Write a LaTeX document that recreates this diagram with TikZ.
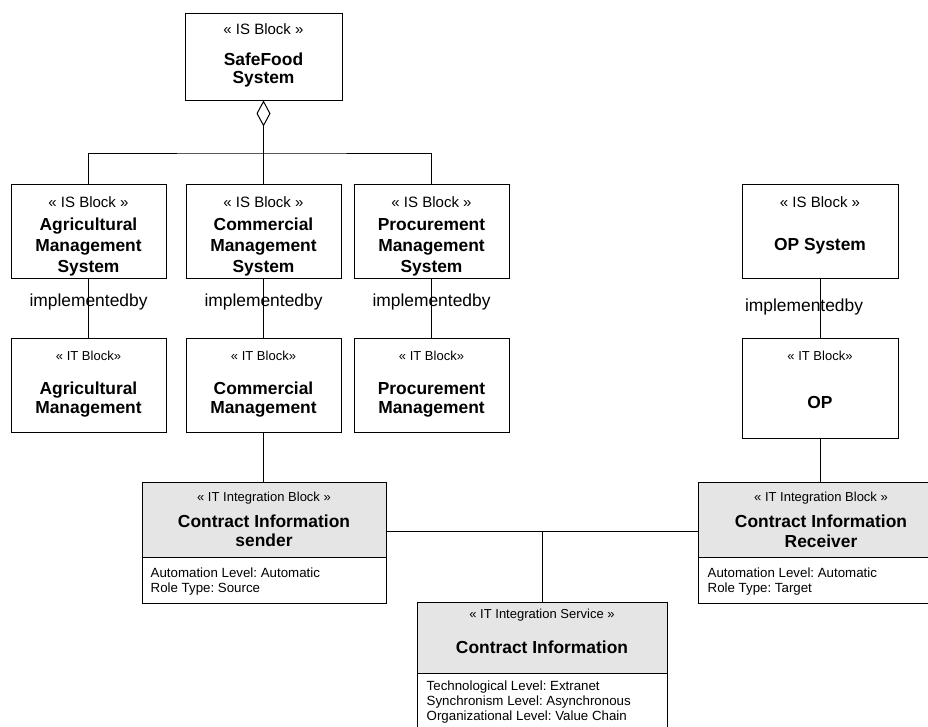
\documentclass[tikz,border=0pt]{standalone}
\usepackage{fontspec}
\setmainfont{Liberation Sans}
\usetikzlibrary{arrows.meta}
\frenchspacing
\begin{document}
\begin{tikzpicture}[x=1pt,y=-1pt,
  block/.style={draw=black, line width=1pt, fill=white, inner sep=0pt},
  hdr/.style={draw=black, line width=1pt, fill=black!10, inner sep=0pt},
  stereoL/.style={font=\fontsize{15}{18}\selectfont, inner sep=0pt, anchor=base},
  stereoS/.style={font=\fontsize{13}{16}\selectfont, inner sep=0pt, anchor=base},
  bname/.style={font=\bfseries\fontsize{17.4}{21}\selectfont, inner sep=0pt, anchor=base},
  attr/.style={font=\fontsize{13.3}{15}\selectfont, inner sep=0pt, anchor=base west},
  lbl/.style={font=\fontsize{17.4}{21}\selectfont, inner sep=0pt, anchor=base},
  wire/.style={line width=1pt, draw=black}]
\useasboundingbox (0,0) rectangle (928,726);
\clip (0,0) rectangle (928,726);

% ---------- IS blocks ----------
\node[block, minimum width=157pt, minimum height=87pt] (safe) at (263.5,56.5) {};
\node[stereoL] (safeS) at (263.5,34.3) {« IS Block »};
\node[bname] (safeN1) at (263.5,65) {SafeFood};
\node[bname] (safeN2) at (263.5,83.3) {System};

\node[block, minimum width=155pt, minimum height=94pt] (agriIS) at (88.5,231) {};
\node[stereoL] (agriISs) at (88.5,207.3) {« IS Block »};
\node[bname] (agriISn1) at (88.5,230) {Agricultural};
\node[bname] (agriISn2) at (88.5,251) {Management};
\node[bname] (agriISn3) at (88.5,272) {System};

\node[block, minimum width=155pt, minimum height=94pt] (commIS) at (263.5,231) {};
\node[stereoL] (commISs) at (263.5,207.3) {« IS Block »};
\node[bname] (commISn1) at (263.5,230) {Commercial};
\node[bname] (commISn2) at (263.5,251) {Management};
\node[bname] (commISn3) at (263.5,272) {System};

\node[block, minimum width=155pt, minimum height=94pt] (procIS) at (431.5,231) {};
\node[stereoL] (procISs) at (431.5,207.3) {« IS Block »};
\node[bname] (procISn1) at (431.5,230) {Procurement};
\node[bname] (procISn2) at (431.5,251) {Management};
\node[bname] (procISn3) at (431.5,272) {System};

\node[block, minimum width=156pt, minimum height=94pt] (opIS) at (820,231) {};
\node[stereoL] (opISs) at (820,207) {« IS Block »};
\node[bname] (opISn) at (820,250.7) {OP System};

% ---------- IT blocks ----------
\node[block, minimum width=155pt, minimum height=94pt] (agriIT) at (88.5,385) {};
\node[stereoS] (agriITs) at (88.5,360) {« IT Block»};
\node[bname] (agriITn1) at (88.5,394) {Agricultural};
\node[bname] (agriITn2) at (88.5,413.5) {Management};

\node[block, minimum width=155pt, minimum height=94pt] (commIT) at (263.5,385) {};
\node[stereoS] (commITs) at (263.5,360) {« IT Block»};
\node[bname] (commITn1) at (263.5,394) {Commercial};
\node[bname] (commITn2) at (263.5,413.5) {Management};

\node[block, minimum width=155pt, minimum height=94pt] (procIT) at (431.5,385) {};
\node[stereoS] (procITs) at (431.5,360) {« IT Block»};
\node[bname] (procITn1) at (431.5,394) {Procurement};
\node[bname] (procITn2) at (431.5,413.5) {Management};

\node[block, minimum width=156pt, minimum height=100pt] (opIT) at (820,388) {};
\node[stereoS] (opITs) at (820,360.7) {« IT Block»};
\node[bname] (opITn) at (820,408.3) {OP};

% ---------- IT integration blocks ----------
\node[hdr, minimum width=244pt, minimum height=75pt] (sendH) at (264,519.5) {};
\node[block, minimum width=244pt, minimum height=46pt] (sendB) at (264,580) {};
\node[stereoS] (sendS) at (264,501) {« IT Integration Block »};
\node[bname] (sendN1) at (264,527.3) {Contract Information};
\node[bname] (sendN2) at (264,546.7) {sender};
\node[attr] (sendA1) at (150.5,577.7) {Automation Level: Automatic};
\node[attr] (sendA2) at (150.5,592.7) {Role Type: Source};

\node[hdr, minimum width=246pt, minimum height=75pt] (recvH) at (821,519.5) {};
\node[block, minimum width=246pt, minimum height=46pt] (recvB) at (821,580) {};
\node[stereoS] (recvS) at (821,501) {« IT Integration Block »};
\node[bname] (recvN1) at (821,527.3) {Contract Information};
\node[bname] (recvN2) at (821,547) {Receiver};
\node[attr] (recvA1) at (707.5,577.5) {Automation Level: Automatic};
\node[attr] (recvA2) at (707.5,592.7) {Role Type: Target};

% ---------- IT integration service ----------
\node[hdr, minimum width=250pt, minimum height=71pt] (svcH) at (542,637.5) {};
\node[block, minimum width=250pt, minimum height=67pt] (svcB) at (542,706.5) {};
\node[stereoS] (svcS) at (542,618.3) {« IT Integration Service »};
\node[bname] (svcN) at (542,653.3) {Contract Information};
\node[attr] (svcA1) at (426.5,690.7) {Technological Level: Extranet};
\node[attr] (svcA2) at (426.5,705.7) {Synchronism Level: Asynchronous};
\node[attr] (svcA3) at (426.5,720.7) {Organizational Level: Value Chain};

% ---------- aggregation ----------
\coordinate (hub) at (263.5,153);
\draw[wire, {Diamond[open, length=26pt, width=14pt, line width=1pt]}-] (safe.south) -- (hub);
\draw[wire] (agriIS.north) |- (hub) -| (procIS.north);
\draw[wire] (hub) -- (commIS.north);

% ---------- implementedby ----------
\draw[wire] (agriIS.south) -- (agriIT.north);
\node[lbl] (impl1) at (88.5,306) {implementedby};
\draw[wire] (commIS.south) -- (commIT.north);
\node[lbl] (impl2) at (263.5,306) {implementedby};
\draw[wire] (procIS.south) -- (procIT.north);
\node[lbl] (impl3) at (431.5,306) {implementedby};
\draw[wire] (opIS.south) -- (opIT.north);
\node[lbl] (impl4) at (804,311.7) {implementedby};

% ---------- integration links ----------
\draw[wire] (commIT.south) -- (commIT.south |- sendH.north);
\draw[wire] (opIT.south) -- (opIT.south |- recvH.north);
\coordinate (junc) at (542,531);
\draw[wire] (junc -| sendH.east) -- (junc -| recvH.west);
\draw[wire] (junc) -- (svcH.north);
\end{tikzpicture}
\end{document}
